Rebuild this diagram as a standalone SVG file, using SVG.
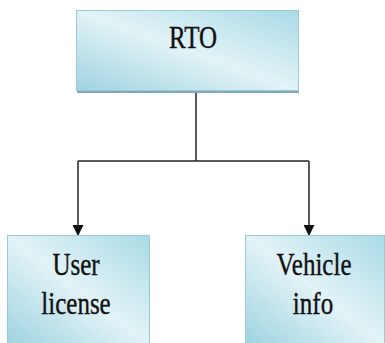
<svg xmlns="http://www.w3.org/2000/svg" width="385" height="343" viewBox="0 0 385 343">
<defs>
<linearGradient id="g" x1="0" y1="1" x2="1" y2="0">
<stop offset="0" stop-color="#9fd3e0"/>
<stop offset="0.5" stop-color="#e2f3f7"/>
<stop offset="1" stop-color="#a9dae6"/>
</linearGradient>
<marker id="a" viewBox="0 0 10 10" refX="9" refY="5" markerWidth="11" markerHeight="11" orient="auto" markerUnits="userSpaceOnUse">
<path d="M0,0 L10,5 L0,10 z" fill="#111"/>
</marker>
</defs>
<style>
.box{fill:url(#g);stroke:#9cc9d5;stroke-width:1}
.sh{fill:#7fa9b5}
.t{font-family:'Liberation Serif',serif;font-size:25px;fill:#111;stroke:#111;stroke-width:0.3;text-anchor:middle}
.c{fill:none;stroke:#222;stroke-width:1.5}
</style>
<rect width="385" height="343" fill="#fff"/>
<g id="connectors">
<path class="c" d="M196,92 V161"/>
<path class="c" d="M78,161 H309"/>
<path class="c" d="M78,161 V235" marker-end="url(#a)"/>
<path class="c" d="M309,161 V235" marker-end="url(#a)"/>
</g>
<g id="rto">
<rect class="sh" x="77" y="89" width="222" height="4"/>
<rect class="box" x="76.5" y="10.5" width="222" height="80"/>
<text class="t" transform="translate(193,48) scale(1,1.3)">RTO</text>
</g>
<g id="user-license">
<rect class="box" x="7.5" y="235.5" width="142" height="108"/>
<text class="t" transform="translate(76,275) scale(1,1.3)">User</text>
<text class="t" transform="translate(76,314) scale(1,1.3)">license</text>
</g>
<g id="vehicle-info">
<rect class="box" x="245.5" y="235.5" width="139" height="108"/>
<text class="t" transform="translate(314,275) scale(1,1.3)">Vehicle</text>
<text class="t" transform="translate(313,314) scale(1,1.3)">info</text>
</g>
</svg>
